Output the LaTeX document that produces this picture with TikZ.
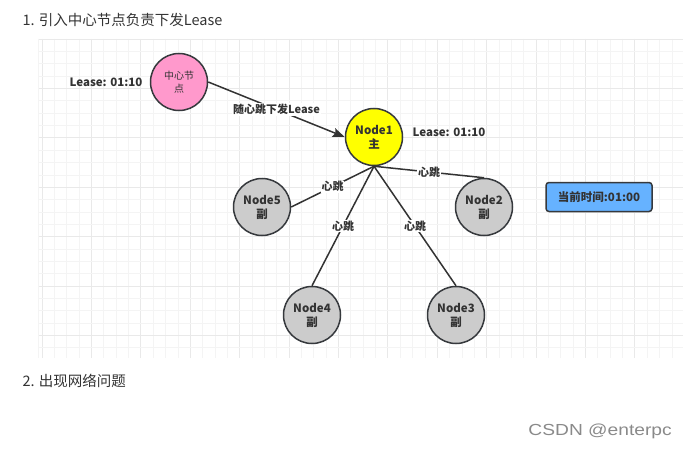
\documentclass[tikz,border=0pt]{standalone}
\usepackage{fontspec}
\setmainfont{Noto Sans CJK SC}
\newfontfamily\marksans{Liberation Sans}
\usepackage{tikz}
\usetikzlibrary{arrows.meta, positioning}

\definecolor{gridminor}{HTML}{F4F4F4}
\definecolor{gridmajor}{HTML}{E9E9E9}
\definecolor{strokegray}{HTML}{36393D}
\definecolor{textgray}{HTML}{333333}
\definecolor{centrepink}{HTML}{FF99CC}
\definecolor{leaderyellow}{HTML}{FFFF00}
\definecolor{followergray}{HTML}{CCCCCC}
\definecolor{clockblue}{HTML}{66B2FF}
\definecolor{markgray}{HTML}{8A8A8A}

\begin{document}
\begin{tikzpicture}[x=1pt, y=-1pt,
		member/.style={circle, draw=strokegray, line width=1.5pt, minimum size=57pt, inner sep=0pt,
			align=center, text=textgray, font=\bfseries\fontsize{11.5}{14}\selectfont},
		link/.style={draw=textgray, line width=1.5pt},
		hb/.style={fill=white, inner sep=0.8pt, text=textgray, font=\bfseries\fontsize{11}{13}\selectfont},
		leasetxt/.style={text=textgray, font=\bfseries\fontsize{11.5}{13}\selectfont},
		heading/.style={anchor=west, text=textgray, font=\fontsize{14.5}{16}\selectfont}]
		% Canvas
		\useasboundingbox (0,0) rectangle (683,452);
		\fill[white] (0,0) rectangle (683,452);
		% Draw grid
		\foreach \k in {0,...,51} {
			\pgfmathsetmacro{\gx}{42+12.35*\k}
			\pgfmathtruncatemacro{\ismajor}{mod(\k,4)==0}
			\ifnum\ismajor=1
				\draw[gridmajor, line width=0.8pt] (\gx,39) -- (\gx,358);
			\else
				\draw[gridminor, line width=0.7pt] (\gx,39) -- (\gx,358);
			\fi
		}
		\foreach \k in {0,...,25} {
			\pgfmathsetmacro{\gy}{39+12.35*\k}
			\pgfmathtruncatemacro{\ismajor}{mod(\k,4)==0}
			\ifnum\ismajor=1
				\draw[gridmajor, line width=0.8pt] (38,\gy) -- (683,\gy);
			\else
				\draw[gridminor, line width=0.7pt] (38,\gy) -- (683,\gy);
			\fi
		}
		\draw[gridminor, line width=0.7pt] (38,39) -- (38,358);
		% Headings
		\node[heading] (step1) at (19,20) {1. 引入中心节点负责下发Lease};
		\node[heading] (step2) at (19,381) {2. 出现网络问题};
		% Draw nodes
		\node[member, fill=centrepink, font=\fontsize{10}{12.5}\selectfont] (centre) at (179,82) {中心节\\点};
		\node[member, fill=leaderyellow] (n1) at (374,137) {Node1\\主};
		\node[member, fill=followergray] (n5) at (262,207) {Node5\\副};
		\node[member, fill=followergray] (n2) at (484,207) {Node2\\副};
		\node[member, fill=followergray] (n4) at (312,315) {Node4\\副};
		\node[member, fill=followergray] (n3) at (456,315) {Node3\\副};
		\node[draw=strokegray, line width=1.5pt, fill=clockblue, rounded corners=3pt,
			minimum width=106pt, minimum height=29pt, inner sep=0pt, text=textgray,
			font=\bfseries\fontsize{11.5}{13}\selectfont] (clock) at (599,197) {当前时间:01:00};
		% Lease labels
		\node[leasetxt] (lease0) at (106,82) {Lease: 01:10};
		\node[leasetxt] (lease1) at (449,132) {Lease: 01:10};
		% Draw links
		\draw[link, -{Stealth[length=12pt, width=9pt, inset=2pt]}] (centre.east) -- node[hb] {随心跳下发Lease} (n1.west);
		\draw[link] (n1.south) -- node[hb] {心跳} (n5.east);
		\draw[link] (n1.south) -- node[hb] {心跳} (n2.north);
		\draw[link] (n1.south) -- node[hb] {心跳} (n4.north);
		\draw[link] (n1.south) -- node[hb] {心跳} (n3.north);
		% Watermark
		\node[anchor=east, text=markgray, font=\marksans\fontsize{16}{18}\selectfont, xscale=1.2] (mark) at (676,431) {CSDN @enterpc};
	\end{tikzpicture}
\end{document}
